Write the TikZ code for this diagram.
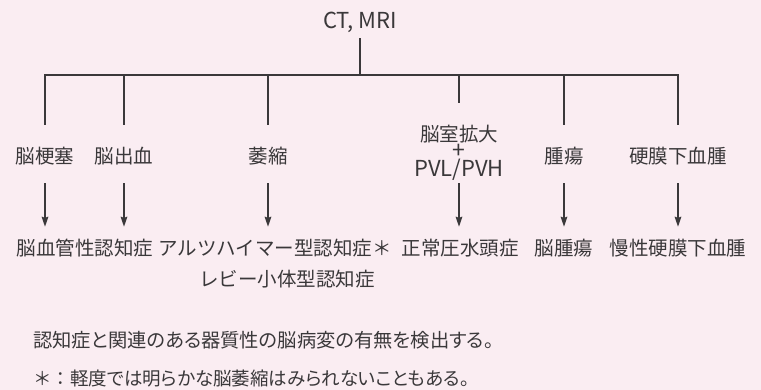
\documentclass[tikz,border=0pt]{standalone}
\usepackage{fontspec}
\setmainfont{Noto Sans CJK JP}
\newfontfamily\notefont[RawFeature=+palt]{Noto Sans CJK JP}
\usetikzlibrary{arrows.meta}
\definecolor{bg}{RGB}{250,237,242}
\definecolor{ink}{RGB}{58,56,58}
\tikzset{
  line/.style={draw=ink, line width=1.6pt},
  arr/.style={line, -{Stealth[length=10pt,width=6.5pt,inset=1pt]}},
  plain/.style={inner sep=0pt, text=ink, font=\fontsize{19.5}{22}\selectfont},
  toplabel/.style={plain, minimum height=54pt},
  botlabel/.style={plain, minimum height=42pt},
  notetext/.style={inner sep=0pt, anchor=west, text=ink, font=\notefont\fontsize{19.3}{22}\selectfont},
}
\begin{document}
\begin{tikzpicture}[x=1pt,y=-1pt]
\fill[bg] (0,0) rectangle (761,390);
\useasboundingbox (0,0) rectangle (761,390);

\node[plain, minimum height=32pt, font=\fontsize{22}{24}\selectfont] (ct) at (360,22) {CT, MRI};

\coordinate (bl) at (45,75);
\coordinate (br) at (678,75);

\node[toplabel] (l1) at (45,156) {脳梗塞};
\node[toplabel] (l2) at (124,156) {脳出血};
\node[toplabel] (l3) at (268,156) {萎縮};
\node[toplabel] (l4) at (459,134.5) {脳室拡大};
\node[plain, anchor=base, font=\fontsize{23}{24}\selectfont] (l4p) at (459,158.5) {+};
\node[plain, minimum height=27pt, font=\fontsize{22}{24}\selectfont] (l4b) at (459,169.5) {PVL/PVH};
\node[toplabel] (l5) at (564,156) {腫瘍};
\node[toplabel] (l6) at (678,156) {硬膜下血腫};

\node[botlabel] (v1) at (85,248) {脳血管性認知症};
\node[botlabel] (v2) at (275,248) {アルツハイマー型認知症＊};
\node[plain] (v3) at (287,279) {レビー小体型認知症};
\node[botlabel] (v4) at (460,248) {正常圧水頭症};
\node[botlabel] (v5) at (564,248) {脳腫瘍};
\node[botlabel] (v6) at (678,248) {慢性硬膜下血腫};

% tree
\draw[line] (ct) -- (ct |- bl);
\draw[line, shorten <=4pt, shorten >=4pt, line join=miter] (l1.north) -- (bl) -- (br) -- (l6.north);
\draw[line, shorten >=4pt] (l2.north |- bl) -- (l2.north);
\draw[line, shorten >=4pt] (l3.north |- bl) -- (l3.north);
\draw[line, shorten >=4.5pt] (l4.north |- bl) -- (l4.north);
\draw[line, shorten >=4pt] (l5.north |- bl) -- (l5.north);

% arrows
\draw[arr] (l1.south) -- (l1.south |- v1.north);
\draw[arr] (l2.south) -- (l2.south |- v1.north);
\draw[arr] (l3.south) -- (l3.south |- v2.north);
\draw[arr] (l4b.south) -- (l4b.south |- v4.north);
\draw[arr] (l5.south) -- (v5.north);
\draw[arr] (l6.south) -- (v6.north);

\node[notetext] (n1) at (33,340) {認知症と関連のある器質性の脳病変の有無を検出する。};
\node[notetext, font=\notefont\fontsize{18.5}{22}\selectfont] (n2) at (33,379) {{\normalfont ＊：}軽度では明らかな脳萎縮はみられないこともある。};
\end{tikzpicture}
\end{document}
